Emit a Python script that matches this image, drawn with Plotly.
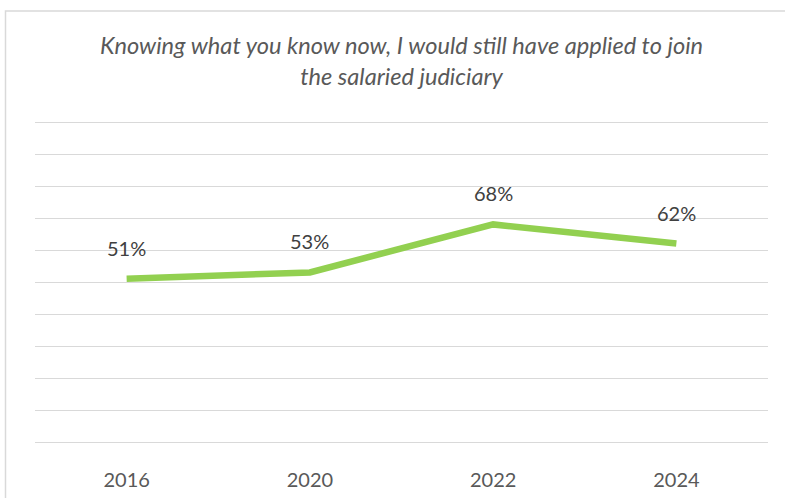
import plotly.graph_objects as go

# Survey responses by year
years = ["2016", "2020", "2022", "2024"]
agree_pct = [51, 53, 68, 62]
title_text = "Knowing what you know now, I would still have applied to join<br>the salaried judiciary"

W, H = 785, 498
L, R, T, B = 35, 17, 112, 46
PAD = 3.125  # extra headroom so the 0% and 100% gridlines sit inside the plot
plot_w = W - L - R
plot_h = H - T - B
pos = list(range(len(years)))
FONT = "Lato, Open Sans, sans-serif"


def px_to_paper_x(px):
    return (px - L) / plot_w


def px_to_paper_y(py):
    return (H - B - py) / plot_h


fig = go.Figure()
fig.add_trace(go.Scatter(
    x=pos,
    y=agree_pct,
    mode="lines",
    line=dict(color="#92D050", width=6.5),
    hoverinfo="skip",
    showlegend=False,
))

# Value labels above each point
for i, v in zip(pos, agree_pct):
    fig.add_annotation(
        x=i, y=v, xref="x", yref="y",
        text=f"{v}%", showarrow=False,
        yshift=31,
        font=dict(family=FONT, size=20, color="#404040"),
    )

# Chart title
fig.add_annotation(
    x=px_to_paper_x(401), y=px_to_paper_y(60.5), xref="paper", yref="paper",
    text=f"<i>{title_text}</i>", showarrow=False,
    xanchor="center", yanchor="middle", align="center",
    font=dict(family=FONT, size=23.6, color="#595959"),
)

# Chart area border
fig.add_shape(
    type="rect", xref="paper", yref="paper",
    x0=px_to_paper_x(5.5), x1=px_to_paper_x(800),
    y0=px_to_paper_y(520), y1=px_to_paper_y(11),
    line=dict(color="#D9D9D9", width=1.5),
    fillcolor="rgba(0,0,0,0)", layer="below",
)

fig.update_layout(
    width=W, height=H,
    margin=dict(l=L, r=R, t=T, b=B, autoexpand=False),
    paper_bgcolor="white",
    plot_bgcolor="white",
    xaxis=dict(
        range=[-0.5, len(years) - 0.5],
        tickvals=pos,
        ticktext=years,
        showgrid=False,
        showline=False,
        zeroline=False,
        ticks="",
        tickfont=dict(family=FONT, size=20, color="#595959"),
        ticklabelstandoff=14,
        automargin=False,
        fixedrange=True,
    ),
    yaxis=dict(
        range=[-PAD, 100 + PAD],
        tickvals=list(range(0, 101, 10)),
        showgrid=True,
        gridcolor="#D9D9D9",
        gridwidth=1.2,
        zeroline=False,
        showticklabels=False,
        ticks="",
        automargin=False,
        fixedrange=True,
    ),
)

fig.write_html("out.html")
